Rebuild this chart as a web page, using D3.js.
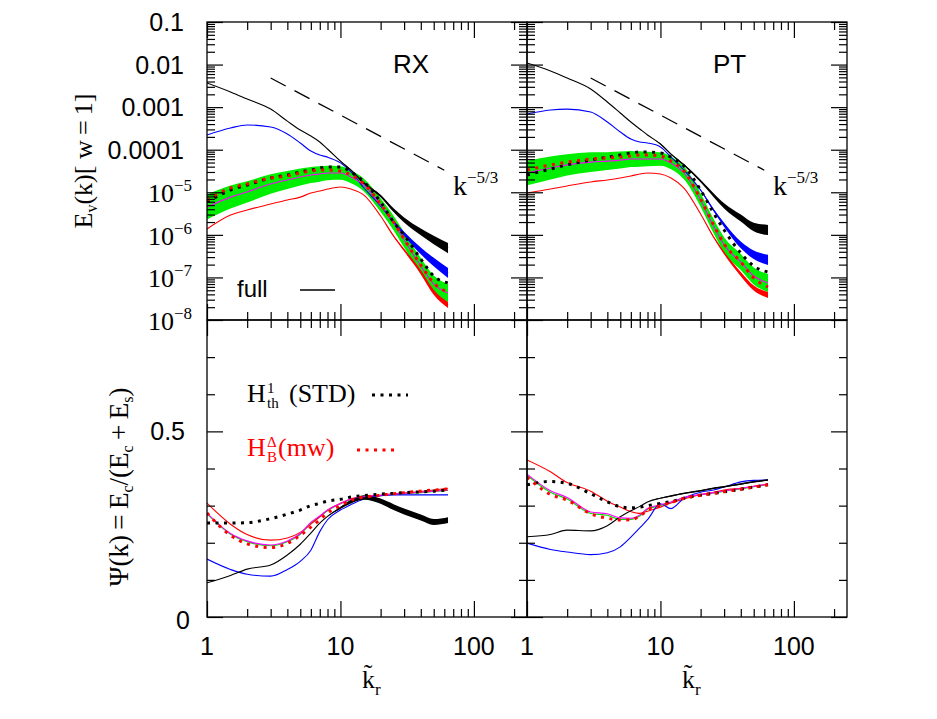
<!DOCTYPE html>
<html><head><meta charset="utf-8">
<script src="https://cdn.jsdelivr.net/npm/d3@7"></script>
<style>body{margin:0;background:#fff}svg{display:block}</style>
</head><body><svg id="c" width="937" height="719"></svg>
<script>
// ---------------- DATA ----------------
const K = [1, 1.5, 2, 3, 4, 5, 6, 7, 8, 10, 12, 15, 20, 25, 30, 40, 50, 64];
const panels = ["RX", "PT"];
// Energy spectra E_v(k), top row
const rxFullE = [3.69e-3, 2.27e-3, 1.55e-3, 9.0e-4, 4.7e-4, 2.9e-4, 2.1e-4, 1.52e-4, 1.04e-4, 5.4e-5, 3.3e-5, 1.65e-5, 8.2e-6, 3.8e-6, 2.23e-6, 1.17e-6, 7.6e-7, 4.9e-7];
const rxBlueE = [2.22e-4, 3.24e-4, 3.81e-4, 3.42e-4, 2.34e-4, 1.44e-4, 9.3e-5, 7.5e-5, 6.7e-5, 4.9e-5, 3.0e-5, 1.26e-5, 4.8e-6, 2.0e-6, 1.05e-6, 4.2e-7, 2.3e-7, 1.27e-7];
const rxMagE = [4.5e-6, 7.7e-6, 1.02e-5, 1.57e-5, 1.95e-5, 2.29e-5, 2.55e-5, 2.69e-5, 2.84e-5, 2.84e-5, 2.29e-5, 1.48e-5, 5.0e-6, 1.9e-6, 7.6e-7, 1.85e-7, 7.0e-8, 4.3e-8];
const rxStdE = [5.9e-6, 1.13e-5, 1.48e-5, 2.17e-5, 2.55e-5, 3.0e-5, 3.33e-5, 3.72e-5, 3.93e-5, 3.93e-5, 3.0e-5, 1.75e-5, 5.9e-6, 2.0e-6, 9.9e-7, 2.7e-7, 1.08e-7, 7.4e-8];
const rxMwE = [6.6e-6, 1.26e-5, 1.57e-5, 2.17e-5, 2.42e-5, 2.84e-5, 3.16e-5, 3.33e-5, 3.33e-5, 3.16e-5, 2.55e-5, 1.57e-5, 5.3e-6, 2.0e-6, 8.0e-7, 1.96e-7, 7.4e-8, 4.5e-8];
const rxRedE = [1.37e-6, 2.92e-6, 3.84e-6, 5.3e-6, 6.6e-6, 7.7e-6, 9.6e-6, 1.07e-5, 1.19e-5, 1.33e-5, 1.19e-5, 8.6e-6, 2.77e-6, 9.4e-7, 4.4e-7, 1.34e-7, 4.5e-8, 2.25e-8];

const ptFullE = [1.09e-2, 7.1e-3, 4.84e-3, 2.67e-3, 1.32e-3, 7.3e-4, 4.48e-4, 3.07e-4, 2.22e-4, 1.36e-4, 7.9e-5, 4.4e-5, 1.84e-5, 8.6e-6, 4.8e-6, 2.49e-6, 1.53e-6, 1.30e-6];
const ptBlueE = [6.9e-4, 8.6e-4, 9.0e-4, 7.7e-4, 4.48e-4, 2.61e-4, 1.79e-4, 1.52e-4, 1.44e-4, 1.16e-4, 6.7e-5, 3.33e-5, 1.13e-5, 3.84e-6, 1.71e-6, 5.8e-7, 3.4e-7, 2.57e-7];
const ptMagE = [2.84e-5, 3.72e-5, 4.4e-5, 5.1e-5, 5.4e-5, 5.7e-5, 6.05e-5, 6.05e-5, 6.05e-5, 6.05e-5, 4.9e-5, 2.84e-5, 6.6e-6, 1.61e-6, 5.8e-7, 2.3e-7, 1.08e-7, 7.4e-8];
const ptStdE = [2.55e-5, 3.52e-5, 4.4e-5, 5.7e-5, 6.7e-5, 7.5e-5, 8.4e-5, 8.8e-5, 8.8e-5, 8.4e-5, 6.7e-5, 4.14e-5, 1.13e-5, 3.26e-6, 1.30e-6, 3.75e-7, 1.85e-7, 1.34e-7];
const ptMwE = [3.33e-5, 4.4e-5, 5.1e-5, 6.05e-5, 6.4e-5, 6.7e-5, 7.1e-5, 7.5e-5, 7.5e-5, 7.1e-5, 5.4e-5, 3.16e-5, 6.95e-6, 1.71e-6, 6.1e-7, 2.3e-7, 9.7e-8, 5.96e-8];
const ptRedE = [9.6e-6, 1.19e-5, 1.41e-5, 1.75e-5, 1.95e-5, 2.17e-5, 2.42e-5, 2.69e-5, 2.84e-5, 2.69e-5, 2.17e-5, 1.26e-5, 3.09e-6, 8.9e-7, 3.75e-7, 1.2e-7, 5.65e-8, 3.86e-8];

// half-widths of the scatter bands (in decades)
const greenSpreadE = [0.29, 0.27, 0.25, 0.23, 0.21, 0.2, 0.19, 0.18, 0.17, 0.16, 0.15, 0.15, 0.16, 0.17, 0.18, 0.19, 0.2, 0.21];
const fullSpreadE  = [0, 0, 0, 0, 0, 0, 0, 0, 0, 0.01, 0.015, 0.02, 0.03, 0.045, 0.06, 0.08, 0.1, 0.12];
const blueSpreadE  = [0, 0, 0, 0, 0, 0, 0, 0, 0, 0, 0, 0, 0.015, 0.03, 0.05, 0.08, 0.1, 0.12];
const redSpreadE   = [0, 0, 0, 0, 0, 0, 0, 0, 0, 0, 0, 0, 0, 0.02, 0.03, 0.05, 0.06, 0.07];

// reference slope k^-5/3
const refK = [3, 60];
const refE = [4.84e-3, 3.3e-5];

// Psi(k) = Ec/(Ec+Es), bottom row
const rxFullPsi  = [0.092, 0.112, 0.129, 0.140, 0.167, 0.196, 0.226, 0.253, 0.271, 0.294, 0.311, 0.322, 0.312, 0.296, 0.284, 0.268, 0.256, 0.261];
const rxBluePsi  = [0.156, 0.128, 0.115, 0.110, 0.128, 0.150, 0.180, 0.230, 0.262, 0.288, 0.303, 0.318, 0.327, 0.329, 0.329, 0.329, 0.329, 0.329];
const rxRedPsi   = [0.307, 0.250, 0.222, 0.207, 0.213, 0.228, 0.250, 0.270, 0.288, 0.306, 0.318, 0.324, 0.328, 0.332, 0.334, 0.338, 0.342, 0.347];
const rxMagPsi   = [0.280, 0.225, 0.205, 0.194, 0.205, 0.225, 0.255, 0.272, 0.288, 0.306, 0.318, 0.324, 0.328, 0.331, 0.333, 0.336, 0.339, 0.342];
const rxGreenPsi = [0.278, 0.223, 0.203, 0.192, 0.203, 0.223, 0.253, 0.270, 0.286, 0.305, 0.317, 0.323, 0.327, 0.330, 0.332, 0.335, 0.338, 0.341];
const rxStdPsi   = [0.253, 0.253, 0.254, 0.265, 0.277, 0.288, 0.300, 0.306, 0.312, 0.317, 0.323, 0.327, 0.331, 0.333, 0.335, 0.337, 0.339, 0.342];
const rxMwPsi    = [0.280, 0.220, 0.197, 0.187, 0.198, 0.220, 0.242, 0.262, 0.280, 0.300, 0.315, 0.323, 0.328, 0.332, 0.335, 0.339, 0.342, 0.345];

const ptFullPsi  = [0.216, 0.222, 0.234, 0.232, 0.246, 0.270, 0.286, 0.298, 0.310, 0.320, 0.326, 0.333, 0.340, 0.347, 0.351, 0.358, 0.364, 0.369];
const ptBluePsi  = [0.199, 0.182, 0.175, 0.168, 0.173, 0.189, 0.215, 0.240, 0.262, 0.305, 0.292, 0.320, 0.336, 0.342, 0.350, 0.364, 0.368, 0.369];
const ptRedPsi   = [0.423, 0.391, 0.362, 0.339, 0.312, 0.296, 0.284, 0.279, 0.285, 0.296, 0.307, 0.318, 0.330, 0.336, 0.342, 0.347, 0.352, 0.358];
const ptMagPsi   = [0.385, 0.340, 0.322, 0.283, 0.278, 0.267, 0.266, 0.275, 0.292, 0.302, 0.310, 0.322, 0.330, 0.335, 0.340, 0.346, 0.352, 0.358];
const ptGreenPsi = [0.382, 0.336, 0.318, 0.279, 0.274, 0.263, 0.263, 0.272, 0.290, 0.300, 0.309, 0.321, 0.329, 0.334, 0.339, 0.345, 0.351, 0.357];
const ptStdPsi   = [0.356, 0.365, 0.360, 0.332, 0.310, 0.297, 0.294, 0.296, 0.300, 0.306, 0.311, 0.320, 0.328, 0.333, 0.337, 0.344, 0.350, 0.356];
const ptMwPsi    = [0.377, 0.330, 0.315, 0.278, 0.266, 0.261, 0.262, 0.272, 0.288, 0.300, 0.308, 0.320, 0.328, 0.333, 0.338, 0.344, 0.350, 0.356];

const rxFullSpreadPsi = [0, 0, 0, 0, 0, 0, 0, 0, 0, 0.003, 0.005, 0.006, 0.007, 0.008, 0.008, 0.008, 0.008, 0.008];
const ptFullSpreadPsi = [0, 0, 0, 0, 0, 0, 0, 0, 0, 0.001, 0.002, 0.002, 0.002, 0.002, 0.002, 0.002, 0.002, 0.002];

// tick labels
const xTickLabels = [1, 10, 100];
const yTopLabels = [0.1, 0.01, 0.001, 0.0001, 1e-5, 1e-6, 1e-7, 1e-8];
const yBotLabels = [0, 0.5];

// ---------------- DRAW ----------------
const svg = d3.select('#c');
const PW = 320, X0 = [207, 527], TOPY = 22, MIDY = 320, BOTY = 617;
const yTop = d3.scaleLog().domain([1e-8, 0.1]).range([MIDY, TOPY]);
const yBot = d3.scaleLinear().domain([0, 0.8]).range([BOTY, MIDY]);
const xScales = X0.map(x0 => d3.scaleLog().domain([1, 250]).range([x0, x0 + PW]));
const SANS = "'Liberation Sans', Arial, Helvetica, sans-serif";
const SERIF = "'Liberation Serif', 'DejaVu Serif', serif";

const sets = [
  {full: rxFullE, blue: rxBlueE, mag: rxMagE, std: rxStdE, mw: rxMwE, red: rxRedE,
   fullP: rxFullPsi, blueP: rxBluePsi, redP: rxRedPsi, magP: rxMagPsi, greenP: rxGreenPsi, stdP: rxStdPsi, mwP: rxMwPsi, fullSP: rxFullSpreadPsi},
  {full: ptFullE, blue: ptBlueE, mag: ptMagE, std: ptStdE, mw: ptMwE, red: ptRedE,
   fullP: ptFullPsi, blueP: ptBluePsi, redP: ptRedPsi, magP: ptMagPsi, greenP: ptGreenPsi, stdP: ptStdPsi, mwP: ptMwPsi, fullSP: ptFullSpreadPsi}
];

const plot = svg.append('g');
sets.forEach((s, i) => {
  const x = xScales[i];
  const clipId = 'clip' + i;
  svg.append('clipPath').attr('id', clipId).append('rect')
    .attr('x', X0[i]).attr('y', TOPY).attr('width', PW).attr('height', BOTY - TOPY);
  const g = plot.append('g').attr('clip-path', `url(#${clipId})`);

  const lineT = vals => d3.line().x((d, j) => x(K[j])).y(d => yTop(d)).curve(d3.curveMonotoneX)(vals);
  const lineB = vals => d3.line().x((d, j) => x(K[j])).y(d => yBot(d)).curve(d3.curveMonotoneX)(vals);
  const bandT = (vals, spr) => d3.area().x((d, j) => x(K[j]))
      .y0((d, j) => yTop(d / Math.pow(10, spr[j]))).y1((d, j) => yTop(d * Math.pow(10, spr[j])))
      .curve(d3.curveMonotoneX)(vals);
  const bandB = (vals, spr) => d3.area().x((d, j) => x(K[j]))
      .y0((d, j) => yBot(d - spr[j])).y1((d, j) => yBot(d + spr[j]))
      .curve(d3.curveMonotoneX)(vals);

  // ---- top: spectra ----
  g.append('path').attr('d', bandT(s.mag, greenSpreadE)).attr('fill', '#00ee00');
  g.append('path').attr('d', bandT(s.red, redSpreadE)).attr('fill', '#ff0000');
  g.append('path').attr('d', lineT(s.red)).attr('fill', 'none').attr('stroke', '#ff0000').attr('stroke-width', 1.1);
  g.append('path').attr('d', bandT(s.blue, blueSpreadE)).attr('fill', '#0000ff');
  g.append('path').attr('d', lineT(s.blue)).attr('fill', 'none').attr('stroke', '#0000ff').attr('stroke-width', 1.1);
  g.append('path').attr('d', bandT(s.full, fullSpreadE)).attr('fill', '#000');
  g.append('path').attr('d', lineT(s.full)).attr('fill', 'none').attr('stroke', '#000').attr('stroke-width', 1.1);
  g.append('path').attr('d', lineT(s.mag)).attr('fill', 'none').attr('stroke', '#ff00ff').attr('stroke-width', 1.1);
  g.append('path').attr('d', lineT(s.std)).attr('fill', 'none').attr('stroke', '#000').attr('stroke-width', 3).attr('stroke-dasharray', '3,5.5');
  g.append('path').attr('d', lineT(s.mw)).attr('fill', 'none').attr('stroke', '#ff0000').attr('stroke-width', 3).attr('stroke-dasharray', '3,5.5');
  // reference slope
  g.append('path').attr('d', d3.line().x((d, j) => x(refK[j])).y(d => yTop(d))(refE))
    .attr('fill', 'none').attr('stroke', '#000').attr('stroke-width', 1.3).attr('stroke-dasharray', '17,10');

  // ---- bottom: Psi ----
  g.append('path').attr('d', lineB(s.greenP)).attr('fill', 'none').attr('stroke', '#00dd00').attr('stroke-width', 1.1);
  g.append('path').attr('d', lineB(s.redP)).attr('fill', 'none').attr('stroke', '#ff0000').attr('stroke-width', 1.1);
  g.append('path').attr('d', lineB(s.blueP)).attr('fill', 'none').attr('stroke', '#0000ff').attr('stroke-width', 1.1);
  g.append('path').attr('d', bandB(s.fullP, s.fullSP)).attr('fill', '#000');
  g.append('path').attr('d', lineB(s.fullP)).attr('fill', 'none').attr('stroke', '#000').attr('stroke-width', 1.1);
  g.append('path').attr('d', lineB(s.magP)).attr('fill', 'none').attr('stroke', '#ff00ff').attr('stroke-width', 1.1);
  g.append('path').attr('d', lineB(s.stdP)).attr('fill', 'none').attr('stroke', '#000').attr('stroke-width', 3).attr('stroke-dasharray', '3,5.5');
  g.append('path').attr('d', lineB(s.mwP)).attr('fill', 'none').attr('stroke', '#ff0000').attr('stroke-width', 3).attr('stroke-dasharray', '3,5.5');
});

// ---------------- FRAMES & TICKS ----------------
const xMajor = [1, 10, 100];
const xMinor = [];
[1, 10, 100].forEach(d => { for (let m = 2; m <= 9; m++) if (m * d < 250) xMinor.push(m * d); });
const yTopMajor = d3.range(-8, 0).map(e => Math.pow(10, e));
const yTopMinor = [];
d3.range(-8, -1).forEach(e => { for (let m = 2; m <= 9; m++) yTopMinor.push(m * Math.pow(10, e)); });
const yBotMajor = [0, 0.5];
const yBotMinor = [0.1, 0.2, 0.3, 0.4, 0.6, 0.7];

function tickSet(axisFn, scale, vals, len, tr) {
  const a = svg.append('g').attr('transform', tr)
    .call(axisFn(scale).tickValues(vals).tickSize(-len).tickFormat(''));
  a.select('.domain').remove();
  a.selectAll('line').attr('stroke', '#000').attr('stroke-width', 1.2);
}
X0.forEach((x0, i) => {
  const x = xScales[i];
  [[TOPY, MIDY, yTop, yTopMajor, yTopMinor], [MIDY, BOTY, yBot, yBotMajor, yBotMinor]].forEach(([t, b, ys, maj, mn]) => {
    tickSet(d3.axisBottom, x, xMajor, 16, `translate(0,${b})`);
    tickSet(d3.axisBottom, x, xMinor, 8, `translate(0,${b})`);
    tickSet(d3.axisTop, x, xMajor, 16, `translate(0,${t})`);
    tickSet(d3.axisTop, x, xMinor, 8, `translate(0,${t})`);
    tickSet(d3.axisLeft, ys, maj, 16, `translate(${x0},0)`);
    tickSet(d3.axisLeft, ys, mn, 8, `translate(${x0},0)`);
    tickSet(d3.axisRight, ys, maj, 16, `translate(${x0 + PW},0)`);
    tickSet(d3.axisRight, ys, mn, 8, `translate(${x0 + PW},0)`);
    svg.append('rect').attr('x', x0).attr('y', t).attr('width', PW).attr('height', b - t)
      .attr('fill', 'none').attr('stroke', '#000').attr('stroke-width', 1.3);
  });
});

// ---------------- TICK LABELS ----------------
X0.forEach((x0, i) => {
  svg.append('g').selectAll('text').data(xTickLabels).join('text')
    .attr('x', d => xScales[i](d)).attr('y', 655).attr('text-anchor', 'middle')
    .attr('font-family', SANS).attr('font-size', 25).text(d => d);
});
const yl = svg.append('g');
yTopLabels.forEach(d => {
  const t = yl.append('text').attr('text-anchor', 'end');
  if (d >= 1e-4) {
    t.attr('x', 184).attr('y', yTop(d) + 9).attr('font-family', SANS).attr('font-size', 25).text(String(d));
  } else {
    const e = Math.round(Math.log10(d));
    t.attr('x', 192).attr('y', yTop(d) + 10).attr('font-family', SERIF).attr('font-size', 26);
    t.append('tspan').text('10');
    t.append('tspan').attr('dy', -11).attr('font-size', 17).text('\u2212' + (-e));
  }
});
yBotLabels.forEach(d => {
  yl.append('text').attr('x', d === 0 ? 190 : 185).attr('y', yBot(d) + 9 + (d === 0 ? 3 : 0)).attr('text-anchor', 'end')
    .attr('font-family', SANS).attr('font-size', 25).text(String(d));
});

// ---------------- ANNOTATIONS ----------------
panels.forEach((p, i) => {
  svg.append('text').attr('x', X0[i] + 186).attr('y', 73).attr('font-family', SANS).attr('font-size', 26).text(p);
  const kt = svg.append('text').attr('x', X0[i] + 246).attr('y', 195).attr('font-family', SERIF).attr('font-size', 28);
  kt.append('tspan').text('k');
  kt.append('tspan').attr('dy', -12).attr('font-size', 17).text('\u22125/3');
  const xl = svg.append('text').attr('x', X0[i] + 155).attr('y', 688).attr('font-family', SERIF).attr('font-size', 26);
  xl.append('tspan').text('k\u0303');
  xl.append('tspan').attr('dy', 7).attr('font-size', 17).text('r');
});
// "full" legend
svg.append('text').attr('x', 237).attr('y', 297).attr('font-family', SANS).attr('font-size', 24).text('full');
svg.append('line').attr('x1', 300).attr('x2', 335).attr('y1', 290).attr('y2', 290).attr('stroke', '#000').attr('stroke-width', 1.4);

// bottom legend
function hLabel(x, y, sup, sub, rest, restDx, color) {
  const g = svg.append('g').attr('fill', color).attr('font-family', SERIF);
  g.append('text').attr('x', x).attr('y', y).attr('font-size', 26).text('H');
  g.append('text').attr('x', x + 20).attr('y', y - 9).attr('font-size', 15).text(sup);
  g.append('text').attr('x', x + 20).attr('y', y + 6).attr('font-size', 15).text(sub);
  g.append('text').attr('x', x + restDx).attr('y', y).attr('font-size', 26).text(rest);
}
hLabel(247, 402, '1', 'th', '(STD)', 42, '#000');
hLabel(247, 456, '\u0394', 'B', '(mw)', 31, '#ff0000');
svg.append('line').attr('x1', 372).attr('x2', 408).attr('y1', 395).attr('y2', 395)
  .attr('stroke', '#000').attr('stroke-width', 3).attr('stroke-dasharray', '3,5.5');
svg.append('line').attr('x1', 357).attr('x2', 394).attr('y1', 450).attr('y2', 450)
  .attr('stroke', '#ff0000').attr('stroke-width', 3).attr('stroke-dasharray', '3,5.5');

// axis titles
const t1 = svg.append('text').attr('transform', 'translate(92,161) rotate(-90)').attr('text-anchor', 'middle')
  .attr('font-family', SERIF).attr('font-size', 26);
t1.append('tspan').text('E');
t1.append('tspan').attr('dy', 5).attr('font-size', 16).text('v');
t1.append('tspan').attr('dy', -5).text('(k)[ w\u2009=\u20091]');
const t2 = svg.append('text').attr('transform', 'translate(128,487) rotate(-90)').attr('text-anchor', 'middle')
  .attr('font-family', SERIF).attr('font-size', 27);
t2.append('tspan').text('\u03A8(k)\u2009=\u2009E');
t2.append('tspan').attr('dy', 5).attr('font-size', 16).text('c');
t2.append('tspan').attr('dy', -5).text('/(E');
t2.append('tspan').attr('dy', 5).attr('font-size', 16).text('c');
t2.append('tspan').attr('dy', -5).text('\u2009+\u2009E');
t2.append('tspan').attr('dy', 5).attr('font-size', 16).text('s');
t2.append('tspan').attr('dy', -5).text(')');
</script></body></html>
